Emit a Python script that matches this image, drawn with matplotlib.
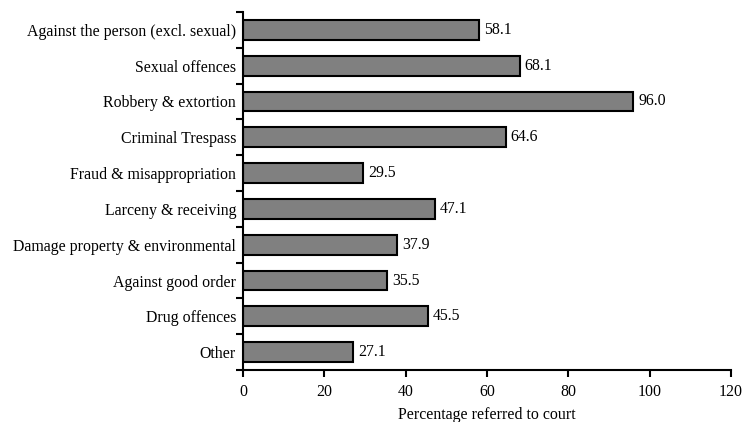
import numpy as np
import matplotlib.pyplot as plt

categories = ["Against the person (excl. sexual)", "Sexual offences", "Robbery & extortion",
              "Criminal Trespass", "Fraud & misappropriation", "Larceny & receiving",
              "Damage property & environmental", "Against good order", "Drug offences", "Other"]
values = [58.1, 68.1, 96.0, 64.6, 29.5, 47.1, 37.9, 35.5, 45.5, 27.1]

plt.rcParams["font.family"] = ["Liberation Serif", "DejaVu Serif"]
plt.rcParams["font.size"] = 11.4

fig = plt.figure(figsize=(7.44, 4.22), dpi=100)
ax = fig.add_axes([0.3266, 0.1232, 0.6559, 0.8484])

y = np.arange(len(categories))
ax.barh(y, values, height=0.55, color="#808080", edgecolor="black", linewidth=1.5)
for yi, v in zip(y, values):
    ax.text(v + 1.2, yi, "%.1f" % v, va="center", ha="left")

ax.set_ylim(len(categories) - 0.5, -0.5)
ax.set_xlim(0, 120)
ax.set_xticks(range(0, 121, 20))
ax.set_yticks(y)
ax.set_yticklabels(categories)
ax.tick_params(axis="y", which="major", length=0, pad=5)
ax.set_yticks(np.arange(-0.5, len(categories), 1), minor=True)
ax.tick_params(axis="y", which="minor", length=5, width=1.5, direction="out")
ax.tick_params(axis="x", length=5, width=1.5, direction="out", pad=5)
ax.set_xlabel("Percentage referred to court", labelpad=5)

for s in ["top", "right"]:
    ax.spines[s].set_visible(False)
for s in ["left", "bottom"]:
    ax.spines[s].set_linewidth(1.5)

fig.savefig("out.png", dpi=100)
